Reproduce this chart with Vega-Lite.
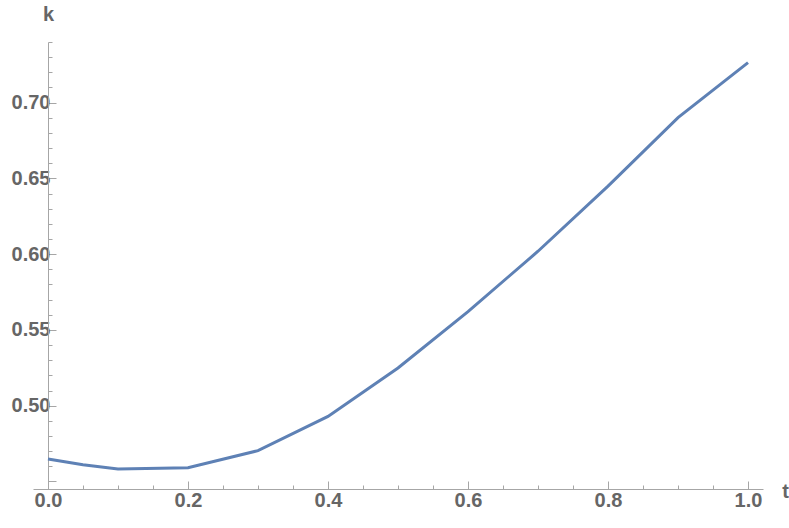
{
  "$schema": "https://vega.github.io/schema/vega-lite/v6.json",
  "width": 730,
  "height": 447,
  "autosize": {"type": "none"},
  "padding": {"left": 33, "top": 42, "right": 26, "bottom": 39},
  "background": "white",
  "config": {"view": {"stroke": null}},
  "data": {"values": [
    {"t": 0.0, "k": 0.4648},
    {"t": 0.05, "k": 0.4610},
    {"t": 0.1, "k": 0.4582},
    {"t": 0.2, "k": 0.4590},
    {"t": 0.3, "k": 0.4703},
    {"t": 0.4, "k": 0.4929},
    {"t": 0.5, "k": 0.5249},
    {"t": 0.6, "k": 0.5621},
    {"t": 0.7, "k": 0.6019},
    {"t": 0.8, "k": 0.6449},
    {"t": 0.9, "k": 0.6901},
    {"t": 1.0, "k": 0.7264}
  ]},
  "mark": {"type": "line", "color": "#5E81B5", "strokeWidth": 3, "clip": false},
  "encoding": {
    "x": {
      "field": "t", "type": "quantitative",
      "scale": {"domain": [-0.0214, 1.0214], "nice": false, "zero": false},
      "axis": {
        "values": [0, 0.05, 0.1, 0.15, 0.2, 0.25, 0.3, 0.35, 0.4, 0.45, 0.5, 0.55, 0.6, 0.65, 0.7, 0.75, 0.8, 0.85, 0.9, 0.95, 1.0],
        "format": ".1f",
        "labelExpr": "abs(datum.value*5 - round(datum.value*5)) < 0.001 ? datum.label : ''",
        "grid": false,
        "domainColor": "#A6A6A6",
        "domainWidth": 1,
        "tickColor": "#A6A6A6",
        "tickWidth": 1,
        "tickSize": {"condition": {"test": "abs(datum.value*5 - round(datum.value*5)) < 0.001", "value": -8}, "value": -4},
        "labelFont": "Liberation Sans",
        "labelFontWeight": "bold",
        "labelFontSize": 20,
        "labelColor": "#666666",
        "labelPadding": 9,
        "labelFlush": false,
        "labelOverlap": false,
        "title": "t",
        "titleFont": "Liberation Sans",
        "titleFontWeight": "bold",
        "titleFontSize": 20,
        "titleColor": "#666666",
        "titleAlign": "center",
        "titleBaseline": "alphabetic",
        "titleX": 752,
        "titleY": 8
      }
    },
    "y": {
      "field": "k", "type": "quantitative",
      "scale": {"domain": [0.445, 0.74], "nice": false, "zero": false},
      "axis": {
        "values": [0.45, 0.46, 0.47, 0.48, 0.49, 0.5, 0.51, 0.52, 0.53, 0.54, 0.55, 0.56, 0.57, 0.58, 0.59, 0.6, 0.61, 0.62, 0.63, 0.64, 0.65, 0.66, 0.67, 0.68, 0.69, 0.7, 0.71, 0.72, 0.73, 0.74],
        "format": ".2f",
        "labelExpr": "abs(datum.value*20 - round(datum.value*20)) < 0.001 && datum.value > 0.47 ? datum.label : ''",
        "offset": -15,
        "grid": false,
        "domainColor": "#A6A6A6",
        "domainWidth": 1,
        "tickColor": "#A6A6A6",
        "tickWidth": 1,
        "tickSize": {"condition": {"test": "abs(datum.value*20 - round(datum.value*20)) < 0.001", "value": -8}, "value": -4},
        "labelFont": "Liberation Sans",
        "labelFontWeight": "bold",
        "labelFontSize": 20,
        "labelColor": "#666666",
        "labelPadding": 6,
        "labelFlush": false,
        "labelOverlap": false,
        "title": "k",
        "titleFont": "Liberation Sans",
        "titleFontWeight": "bold",
        "titleFontSize": 20,
        "titleColor": "#666666",
        "titleAngle": 0,
        "titleAlign": "center",
        "titleBaseline": "alphabetic",
        "titleX": 0,
        "titleY": -22
      }
    }
  }
}
